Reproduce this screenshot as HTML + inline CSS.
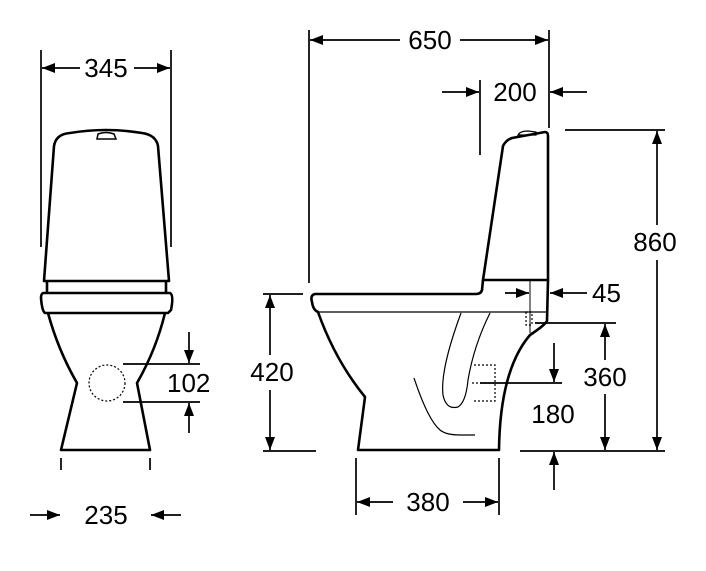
<!DOCTYPE html>
<html><head><meta charset="utf-8"><style>
html,body{margin:0;padding:0;background:#fff}
svg{display:block}
text{font-family:"Liberation Sans",sans-serif;font-size:26px;fill:#000}
</style></head><body>
<svg width="706" height="571" viewBox="0 0 706 571" xmlns="http://www.w3.org/2000/svg">
<defs>
<marker id="a" markerWidth="13" markerHeight="10" refX="13" refY="5" orient="auto" markerUnits="userSpaceOnUse">
<path d="M0,0 L13,5 L0,10 Z" fill="#000"/></marker>
</defs>
<g fill="none" stroke="#000" stroke-width="1.7">
<!-- LEFT VIEW -->
<line x1="41" y1="50" x2="41" y2="247"/>
<line x1="171" y1="50" x2="171" y2="247"/>
<line x1="80" y1="68" x2="42" y2="68" marker-end="url(#a)"/>
<line x1="134" y1="68" x2="170" y2="68" marker-end="url(#a)"/>
<!-- 102 -->
<line x1="123" y1="364" x2="200" y2="364"/>
<line x1="123" y1="402" x2="200" y2="402"/>
<line x1="189" y1="332" x2="189" y2="363" marker-end="url(#a)"/>
<line x1="189" y1="433" x2="189" y2="403" marker-end="url(#a)"/>
<!-- 235 -->
<line x1="61" y1="458" x2="61" y2="470"/>
<line x1="150" y1="458" x2="150" y2="470"/>
<line x1="30" y1="515" x2="60" y2="515" marker-end="url(#a)"/>
<line x1="181" y1="515" x2="151" y2="515" marker-end="url(#a)"/>
</g>
<g fill="none" stroke="#000" stroke-width="2.6" stroke-linejoin="round">
<path d="M44,281 L54,146 Q56,134 70,133 Q106,127 142,133 Q156,135 158,146 L169,281 Z"/>
<path d="M47,281 L47,293 M166,281 L166,293"/>
<path d="M43,293 L170,293 Q174,295 171,310 L168,313 L45,313 Q42,311 41,298 Q41,294 43,293 Z"/>
<path d="M48,313 Q58,350 77,383 L61,450 L150,450 L137,383 Q156,350 165,313"/>
</g>
<path d="M97,139 L98,134 Q106,131 114,134 L116,139 Z" fill="none" stroke="#000" stroke-width="1.5"/>
<line x1="48" y1="281" x2="166" y2="281" stroke="#000" stroke-width="1.2"/>
<circle cx="107" cy="383" r="18" fill="none" stroke="#000" stroke-width="1.2" stroke-dasharray="2,2"/>
<text x="167" y="392">102</text>
<text x="106" y="524" text-anchor="middle">235</text>
<text x="106" y="77" text-anchor="middle">345</text>

<!-- RIGHT VIEW -->
<g fill="none" stroke="#000" stroke-width="1.7">
<line x1="309" y1="30" x2="309" y2="283"/>
<line x1="549" y1="30" x2="549" y2="128"/>
<line x1="480" y1="80" x2="480" y2="155"/>
<line x1="400" y1="40" x2="310" y2="40" marker-end="url(#a)"/>
<line x1="460" y1="40" x2="548" y2="40" marker-end="url(#a)"/>
<line x1="442" y1="92" x2="479" y2="92" marker-end="url(#a)"/>
<line x1="587" y1="92" x2="550" y2="92" marker-end="url(#a)"/>
<!-- 860 -->
<line x1="565" y1="130" x2="665" y2="130"/>
<line x1="520" y1="451" x2="665" y2="451"/>
<line x1="657" y1="225" x2="657" y2="131" marker-end="url(#a)"/>
<line x1="657" y1="260" x2="657" y2="450" marker-end="url(#a)"/>
<!-- 45 -->
<line x1="530" y1="280" x2="530" y2="333" stroke-width="1"/>
<line x1="505" y1="293" x2="529" y2="293" marker-end="url(#a)"/>
<line x1="587" y1="293" x2="550" y2="293" marker-end="url(#a)"/>
<!-- 360 -->
<line x1="535" y1="323" x2="616" y2="323"/>
<line x1="605" y1="360" x2="605" y2="324" marker-end="url(#a)"/>
<line x1="605" y1="394" x2="605" y2="450" marker-end="url(#a)"/>
<!-- 180 -->
<line x1="480" y1="383" x2="562" y2="383"/>
<line x1="554" y1="343" x2="554" y2="382" marker-end="url(#a)"/>
<line x1="554" y1="490" x2="554" y2="452" marker-end="url(#a)"/>
<!-- 420 -->
<line x1="263" y1="294" x2="303" y2="294"/>
<line x1="263" y1="451" x2="316" y2="451"/>
<line x1="270" y1="355" x2="270" y2="295" marker-end="url(#a)"/>
<line x1="270" y1="390" x2="270" y2="450" marker-end="url(#a)"/>
<!-- 380 -->
<line x1="356" y1="458" x2="356" y2="515"/>
<line x1="499" y1="458" x2="499" y2="515"/>
<line x1="393" y1="502" x2="357" y2="502" marker-end="url(#a)"/>
<line x1="463" y1="502" x2="498" y2="502" marker-end="url(#a)"/>
</g>
<g fill="none" stroke="#000" stroke-width="2.6" stroke-linejoin="round">
<path d="M483,280 L503,146 Q506,140 512,138 L545,132 Q548,132 548,136 L548,280 Z"/>
<path d="M483,280 L482,290 Q481,294 476,294 L315,294 Q310,295 312,302 Q313,310 318,312 Q335,360 365,397 L358,450 L499,450 Q500,370 530,335 Q545,325 547,321 L548,280"/>
</g>
<path d="M518,135 Q520,131 528,131 L536,132 L536,135 Z" fill="none" stroke="#000" stroke-width="1.2"/>
<g fill="none" stroke="#000" stroke-width="1.2">
<line x1="318" y1="312" x2="548" y2="312"/>
<path d="M461,313 Q440,370 443,395 Q446,410 458,407 Q466,402 468,380 Q474,345 490,313"/>
<path d="M414,378 Q428,420 440,430 Q446,435 460,435 L475,435"/>
</g>
<g fill="none" stroke="#000" stroke-width="1.2" stroke-dasharray="2,2">
<path d="M474,365 L495,365 L495,401 L474,401"/>
<line x1="472" y1="383" x2="495" y2="383"/>
<rect x="526" y="312" width="6" height="13"/>
</g>
<text x="430" y="49" text-anchor="middle">650</text>
<text x="515" y="101" text-anchor="middle">200</text>
<text x="655" y="251" text-anchor="middle">860</text>
<text x="592" y="302">45</text>
<text x="605" y="386" text-anchor="middle">360</text>
<text x="553" y="423" text-anchor="middle">180</text>
<text x="272" y="381" text-anchor="middle">420</text>
<text x="428" y="511" text-anchor="middle">380</text>
</svg>
</body></html>
